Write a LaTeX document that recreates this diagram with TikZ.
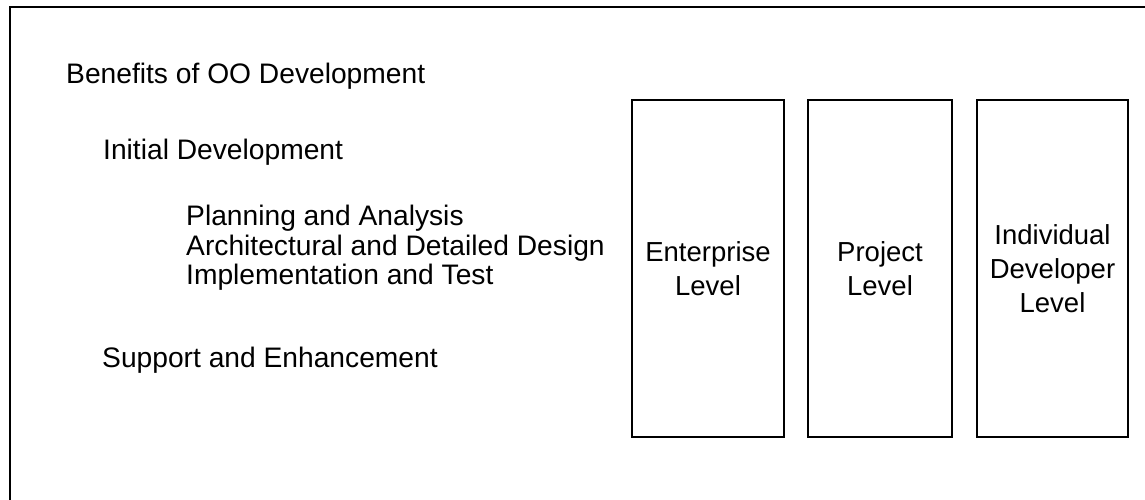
\documentclass[tikz,border=0pt]{standalone}
\usepackage{fontspec}
\setmainfont{Liberation Sans}
\begin{document}
\begin{tikzpicture}[x=1pt,y=-1pt,
  outline/.style={line width=1.5pt,draw=black},
  level/.style={outline,rectangle,inner sep=0pt,align=center,
    font=\fontsize{27.5}{34}\selectfont},
  heading/.style={anchor=base west,inner sep=0pt,
    font=\fontsize{28.2}{29.3}\selectfont}]
  \useasboundingbox (0,0) rectangle (1145,500);
  \clip (0,0) rectangle (1145,500);
  % open frame running off the right and bottom edges
  \draw[outline] (10,7) rectangle (1160,520);

  % outline of topics
  \node[heading] (benefits) at (66,83.5) {Benefits of OO Development};
  \node[heading] (initial) at (103,159) {Initial Development};
  \node[heading] (planning) at (186,225.7) {Planning and Analysis};
  \node[heading] (design) at (186,255) {Architectural and Detailed Design};
  \node[heading] (implementation) at (186,284.3) {Implementation and Test};
  \node[heading] (support) at (102,367) {Support and Enhancement};

  % the three levels
  \node[level,minimum width=152pt,minimum height=337pt] (enterprise) at (708,268.5) {Enterprise\\Level};
  \node[level,minimum width=144pt,minimum height=337pt] (project) at (880,268.5) {Project\\Level};
  \node[level,minimum width=151pt,minimum height=337pt] (individual) at (1052.5,268.5) {Individual\\Developer\\Level};
\end{tikzpicture}
\end{document}
